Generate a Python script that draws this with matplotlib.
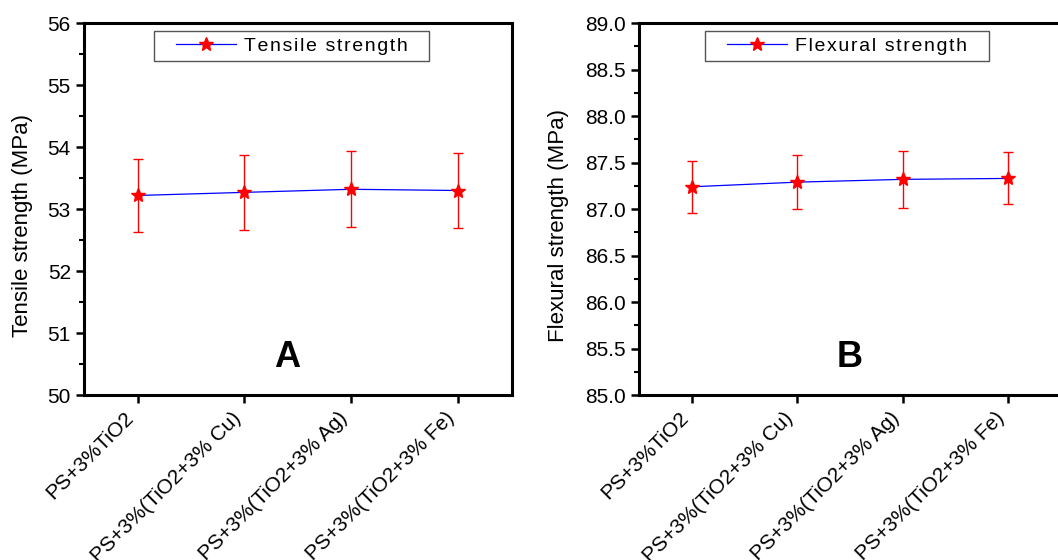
import matplotlib
matplotlib.use("Agg")
import matplotlib.pyplot as plt
from matplotlib.ticker import MultipleLocator
from matplotlib.patches import Rectangle

plt.rcParams['font.family'] = ['Liberation Sans', 'DejaVu Sans']

samples = ["PS+3%TiO2", "PS+3%(TiO2+3% Cu)", "PS+3%(TiO2+3% Ag)", "PS+3%(TiO2+3% Fe)"]
tensile = [53.22, 53.27, 53.32, 53.30]
tensile_err = [0.59, 0.60, 0.61, 0.60]
flexural = [87.24, 87.29, 87.32, 87.33]
flexural_err = [0.28, 0.29, 0.31, 0.28]

fig = plt.figure(figsize=(10.58, 5.6), dpi=100)
axA = fig.add_axes([0.0794, 0.2946, 0.4045, 0.664])
axB = fig.add_axes([0.604, 0.2946, 0.399, 0.664])

def spaced(s):
    # legend text in the original is letter-spaced
    return "\u200a".join(s)

legends = []

def panel(ax, vals, errs, name, letter, ylim, major, minor, fmt, legx, letx):
    x = range(len(samples))
    ax.errorbar(x, vals, yerr=errs, fmt='none', ecolor='red', elinewidth=1, capsize=3.5, capthick=1)
    ax.plot(x, vals, color='blue', lw=0.9, marker='*', ms=10, mfc='red', mec='red',
            label=spaced(name))
    ax.set_xlim(-0.5, 3.5)
    ax.set_ylim(*ylim)
    ax.yaxis.set_major_locator(MultipleLocator(major))
    ax.yaxis.set_minor_locator(MultipleLocator(minor))
    ax.yaxis.set_major_formatter(fmt)
    ax.set_xticks(list(x))
    ax.set_xticklabels(samples, rotation=45, ha='right', va='top', fontsize=14)
    ax.tick_params(axis='both', direction='out', width=1.8, length=6, labelsize=15)
    ax.tick_params(axis='y', which='minor', direction='out', width=1.5, length=3.5)
    for s in ax.spines.values():
        s.set_linewidth(2.2)
    ax.set_ylabel(name + " (MPa)", fontsize=16)
    leg = ax.legend(loc='upper center', bbox_to_anchor=(legx, 0.978), borderaxespad=0,
                    fontsize=14, fancybox=False, framealpha=1,
                    handlelength=3.1, handletextpad=0.4, borderpad=0.3)
    leg.get_frame().set_visible(False)
    legends.append((ax, leg))
    ax.text(letx, 0.1, letter, transform=ax.transAxes,
            fontsize=26, fontweight='bold', ha='center', va='center')

panel(axA, tensile, tensile_err, "Tensile strength", "A", (50, 56), 1, 0.5, '{x:.0f}', 0.485, 0.474)
panel(axB, flexural, flexural_err, "Flexural strength", "B", (85, 89), 0.5, 0.25, '{x:.1f}', 0.493, 0.5)
axA.yaxis.set_label_coords(-0.119, 0.457)
axB.yaxis.set_label_coords(-0.166, 0.457)

# legend box is wider than matplotlib's padding: draw it by hand around the legend
fig.canvas.draw()
for ax, leg in legends:
    bb = leg.get_window_extent()
    extra = 16
    rect = Rectangle((bb.x0 - extra, bb.y0), bb.width + 2 * extra, bb.height,
                     transform=None, fill=False, edgecolor='#555555', lw=1, zorder=5)
    fig.add_artist(rect)

fig.savefig("out.png", dpi=100)
